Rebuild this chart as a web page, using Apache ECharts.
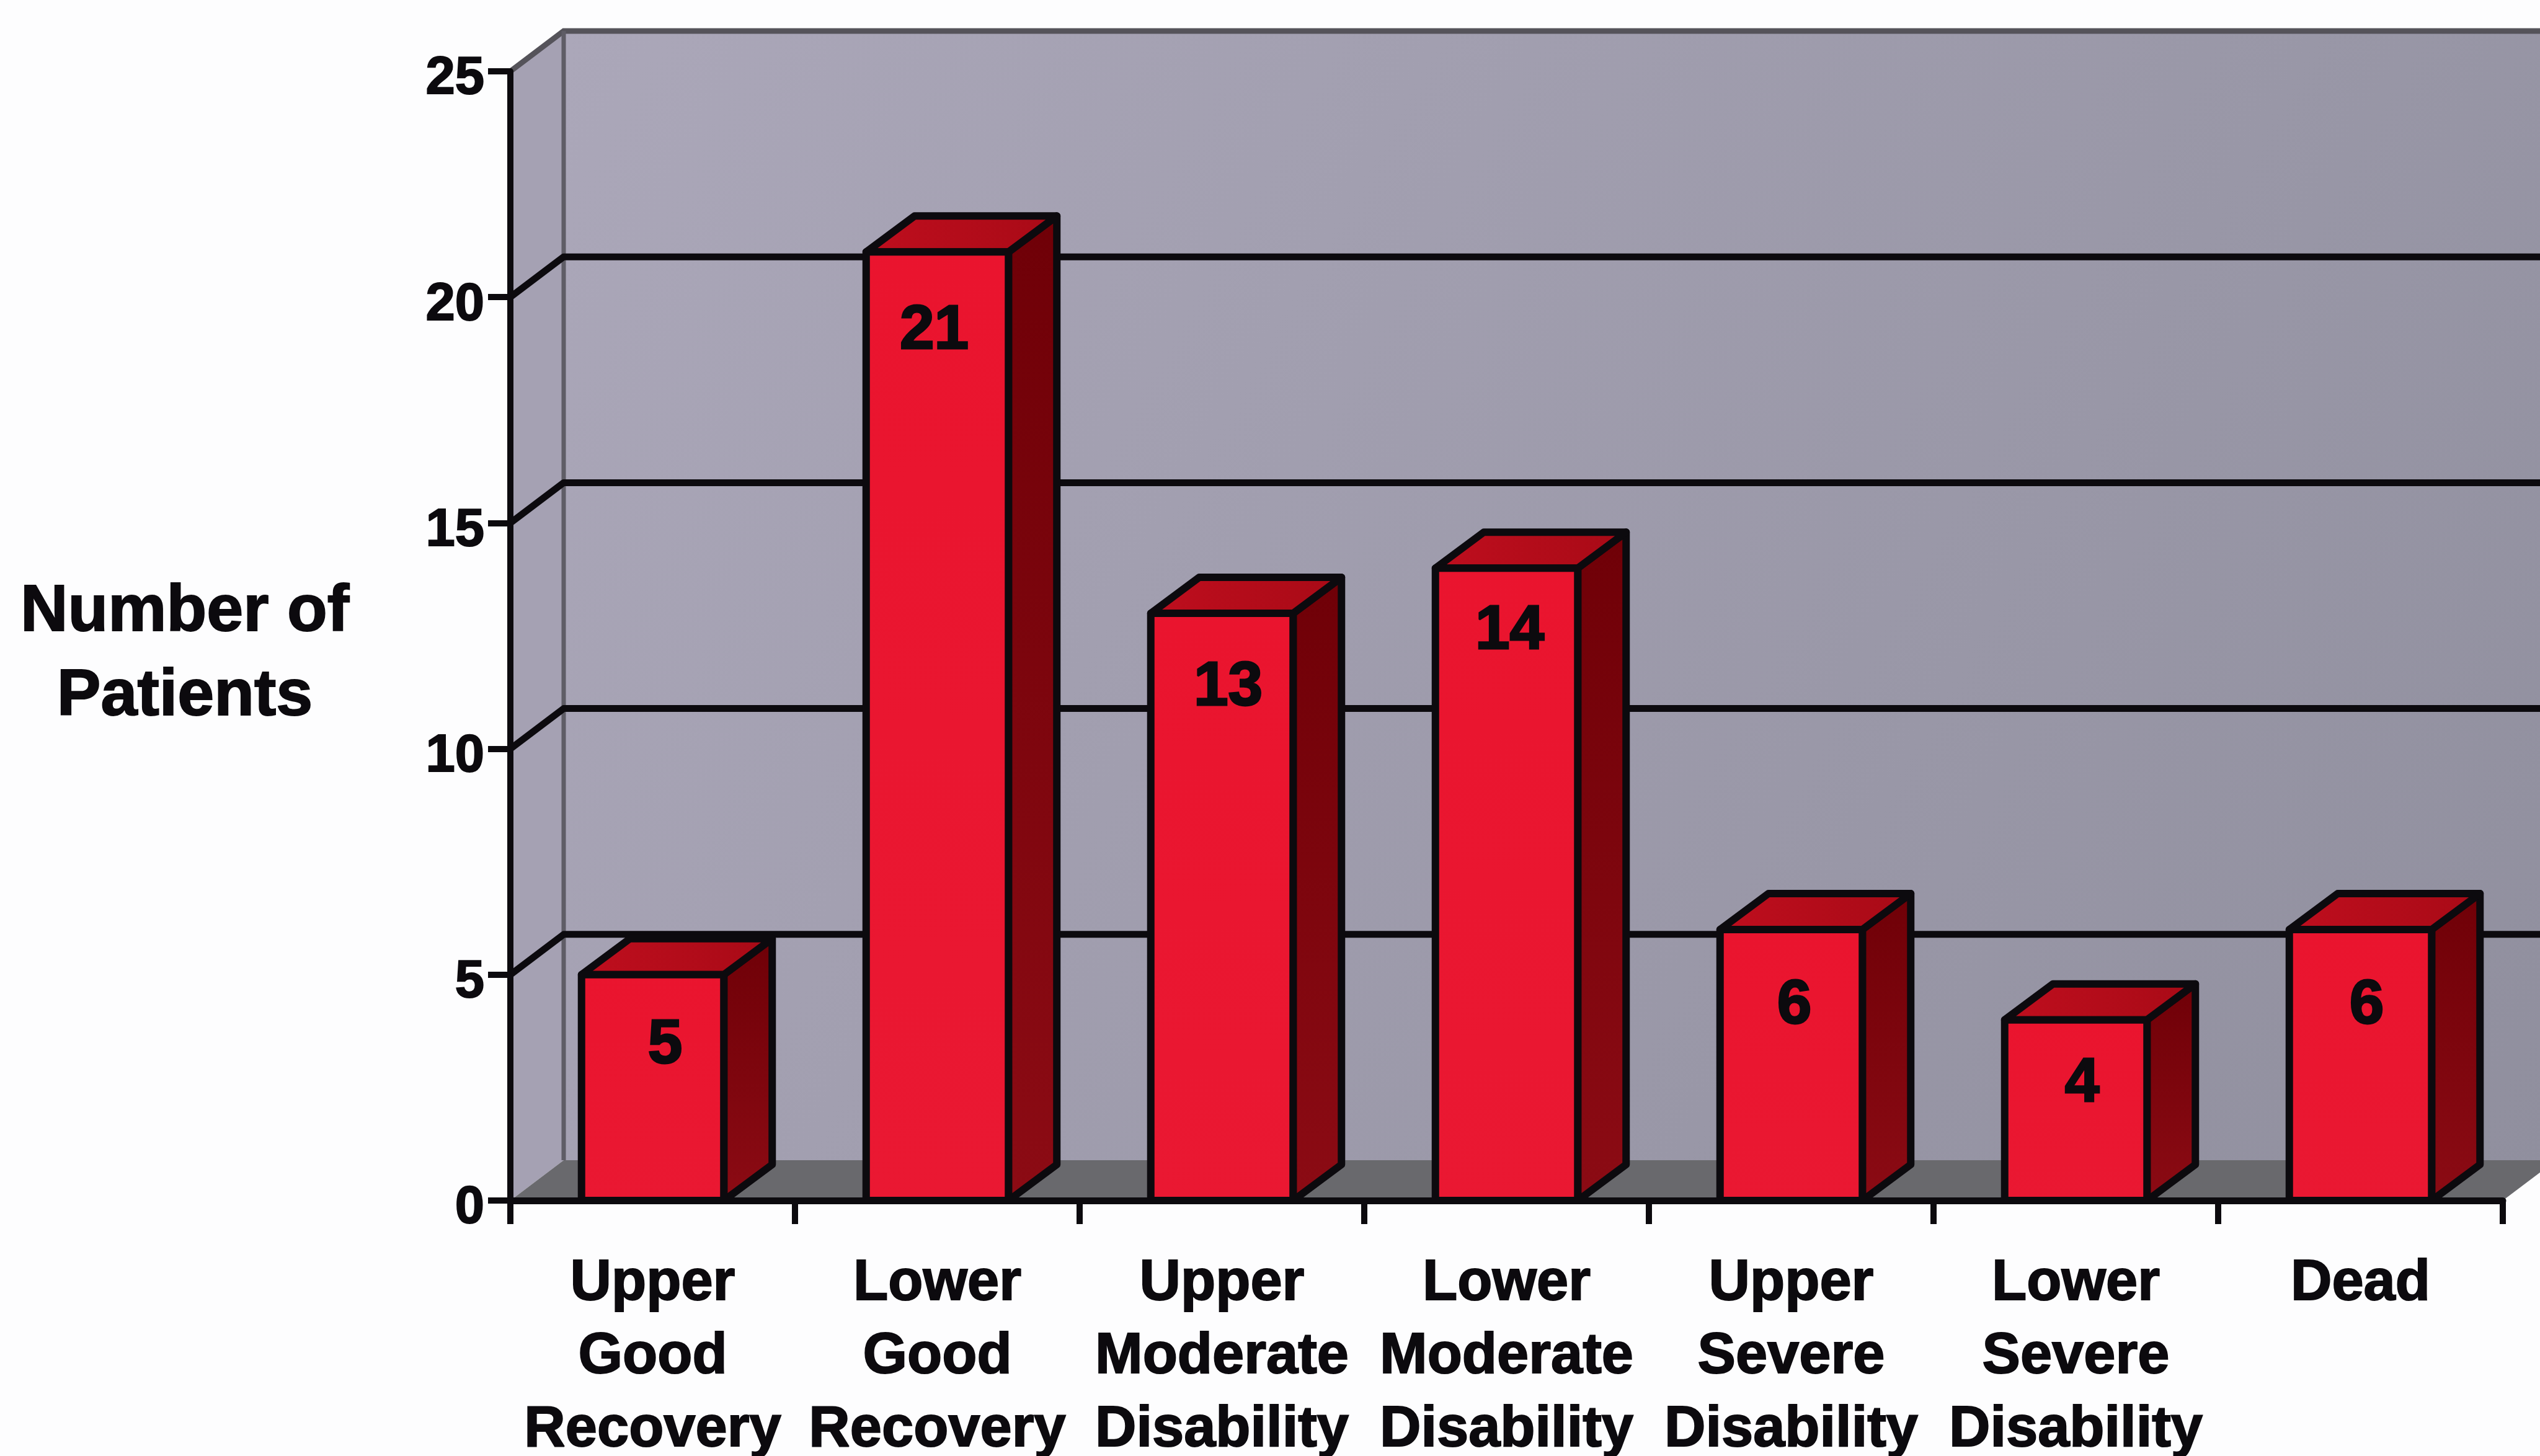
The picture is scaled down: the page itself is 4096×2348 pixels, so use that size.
<!DOCTYPE html>
<html>
<head>
<meta charset="utf-8">
<style>html,body{margin:0;padding:0;background:#fdfdfe}#chart{width:4096px;height:2348px}</style>
<script src="https://cdn.jsdelivr.net/npm/echarts@6/dist/echarts.min.js"></script>
</head>
<body>
<div id="chart"></div>
<script>
// Outcome categories and patient counts
const categories = [
  'Upper\nGood\nRecovery', 'Lower\nGood\nRecovery',
  'Upper\nModerate\nDisability', 'Lower\nModerate\nDisability',
  'Upper\nSevere\nDisability', 'Lower\nSevere\nDisability', 'Dead'
];
const patients = [5, 21, 13, 14, 6, 4, 6];
const yTicks = [5, 10, 15, 20];
const yMax = 25;
const yTitle = 'Number of\nPatients';

// Value label placement inside each bar, relative to the bar's top centre
const labelShiftX = [20, -5, 10, 5, 5, 10, 10];
const labelShiftY = [115, 128, 120, 102, 123, 104, 123];

const INK = '#0c0a0e';
const FONT = '"Liberation Sans", Arial, sans-serif';
const WALL_DX = 86, WALL_DY = -65;   // depth of the chart box
const BAR_DX = 78, BAR_DY = -58;     // depth of each bar

function grad(x, y, x2, y2, a, b) {
  return { type: 'linear', x, y, x2, y2, colorStops: [{ offset: 0, color: a }, { offset: 1, color: b }] };
}

// Side wall, back wall, floor and the gridlines that wrap around them
function renderBox(params, api) {
  const c = params.coordSys;
  const L = c.x, R = c.x + c.width, T = c.y, B = c.y + c.height;
  const yAt = v => api.coord([0, v])[1];
  const items = [
    { type: 'polygon', shape: { points: [[L + WALL_DX, T + WALL_DY], [R + WALL_DX, T + WALL_DY], [R + WALL_DX, B + WALL_DY], [L + WALL_DX, B + WALL_DY]] },
      style: { fill: grad(0, 0, 1, 1, '#aba7b9', '#908f9e') } },
    { type: 'polygon', shape: { points: [[L, T], [L + WALL_DX, T + WALL_DY], [L + WALL_DX, B + WALL_DY], [L, B]] },
      style: { fill: '#a5a1b3' } },
    { type: 'polygon', shape: { points: [[L, B], [L + WALL_DX, B + WALL_DY], [R + WALL_DX, B + WALL_DY], [R, B]] },
      style: { fill: '#69696d' } },
    { type: 'polyline', shape: { points: [[L, T], [L + WALL_DX, T + WALL_DY], [R + WALL_DX, T + WALL_DY]] },
      style: { fill: null, stroke: '#55535a', lineWidth: 9 } },
    { type: 'line', shape: { x1: L + WALL_DX, y1: T + WALL_DY, x2: L + WALL_DX, y2: B + WALL_DY },
      style: { stroke: '#5f5d66', lineWidth: 7 } }
  ];
  yTicks.forEach(v => {
    const y = yAt(v);
    items.push({ type: 'polyline', shape: { points: [[L, y], [L + WALL_DX, y + WALL_DY], [R + WALL_DX, y + WALL_DY]] },
      style: { fill: null, stroke: INK, lineWidth: 11, lineJoin: 'round' } });
  });
  return { type: 'group', children: items };
}

// A bar drawn as front, top and side faces, with its count on the front
function renderBar(params, api) {
  const i = api.value(0), v = api.value(1);
  const base = api.coord([i, 0]), top = api.coord([i, v]);
  const w = api.size([1, 0])[0] * 0.5;
  const x0 = base[0] - w / 2, x1 = base[0] + w / 2, yB = base[1], yT = top[1];
  const edge = { stroke: INK, lineWidth: 12, lineJoin: 'round' };
  return {
    type: 'group',
    children: [
      { type: 'polygon', shape: { points: [[x1, yT], [x1 + BAR_DX, yT + BAR_DY], [x1 + BAR_DX, yB + BAR_DY], [x1, yB]] },
        style: Object.assign({ fill: grad(0, 0, 0, 1, '#6f0007', '#8c0b14') }, edge) },
      { type: 'polygon', shape: { points: [[x0, yT], [x0 + BAR_DX, yT + BAR_DY], [x1 + BAR_DX, yT + BAR_DY], [x1, yT]] },
        style: Object.assign({ fill: grad(0, 0, 1, 0, '#bf0e1e', '#a80a16') }, edge) },
      { type: 'rect', shape: { x: x0, y: yT, width: w, height: yB - yT },
        style: Object.assign({ fill: grad(0, 0, 0, 1, '#ea142e', '#ea1832') }, edge) },
      { type: 'text', x: base[0] + labelShiftX[i], y: yT + labelShiftY[i],
        style: { text: String(v), fill: INK, stroke: INK, lineWidth: 3, font: 'bold 100px ' + FONT, align: 'center', verticalAlign: 'middle' } }
    ]
  };
}

const boldText = { color: INK, fontFamily: FONT, fontWeight: 'bold', textBorderColor: INK, textBorderWidth: 2 };

const chart = echarts.init(document.getElementById('chart'), null, { renderer: 'canvas' });
chart.setOption({
  animation: false,
  backgroundColor: '#fdfdfe',
  title: {
    text: yTitle,
    left: 298,
    top: 920,
    padding: 0,
    textAlign: 'center',
    textStyle: Object.assign({ fontSize: 106, lineHeight: 136 }, boldText)
  },
  grid: { left: 823, right: 60, top: 115, bottom: 412, outerBoundsMode: 'none', containLabel: false },
  xAxis: {
    type: 'category',
    data: categories,
    boundaryGap: true,
    z: 5,
    axisLine: { lineStyle: { color: INK, width: 11 } },
    axisTick: { show: true, alignWithLabel: false, interval: 0, length: 38, lineStyle: { color: INK, width: 10 } },
    axisLabel: Object.assign({ interval: 0, margin: 76, lineHeight: 118, fontSize: 92, verticalAlign: 'top' }, boldText)
  },
  yAxis: {
    type: 'value',
    min: 0,
    max: yMax,
    interval: 5,
    z: 5,
    splitLine: { show: false },
    axisLine: { show: true, lineStyle: { color: INK, width: 10 } },
    axisTick: { show: true, length: 36, lineStyle: { color: INK, width: 10 } },
    axisLabel: Object.assign({ margin: 42, fontSize: 85, verticalAlign: 'top', lineHeight: 26 }, boldText)
  },
  series: [
    { type: 'custom', name: 'box', z: 1, silent: true, clip: false, data: [[0, 0]], encode: { x: 0, y: 1 }, renderItem: renderBox },
    { type: 'custom', name: 'Patients', z: 2, clip: false, data: patients.map((v, i) => [i, v]), encode: { x: 0, y: 1 }, renderItem: renderBar }
  ]
});
</script>
</body>
</html>
